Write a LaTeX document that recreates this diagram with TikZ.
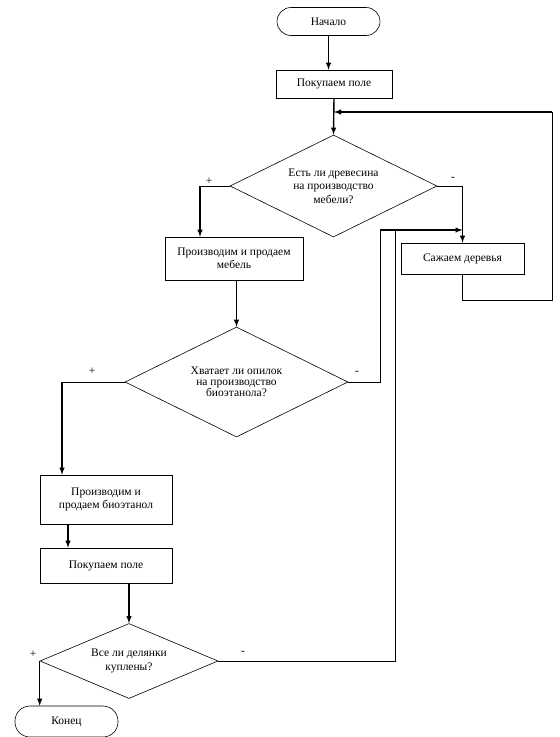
\documentclass[tikz,border=0pt]{standalone}
\usepackage{fontspec}
\setmainfont{Liberation Serif}
\usetikzlibrary{arrows,calc,positioning}
\usetikzlibrary{shapes.geometric}

\begin{document}
\begin{tikzpicture}[x=1pt,y=-1pt,>=latex,font=\fontsize{11.5}{13.5}\selectfont]
	\tikzstyle{term}=[draw, line width=0.6pt, rounded corners=14pt, minimum width=103pt, minimum height=28pt]
	\tikzstyle{box}=[draw, line width=0.6pt, align=center]
	\tikzstyle{cond}=[draw, line width=0.6pt, diamond, aspect=2, inner sep=0pt, align=center]
	\tikzstyle{link}=[line width=1.4pt]
	\tikzstyle{side}=[line width=0.8pt]
	\useasboundingbox (0,0) rectangle (560,737);

	\node[term] (start) at (328.5,21.5) {Начало};
	\node[box, minimum width=116pt, minimum height=28pt] (field1) at (334,84) {Покупаем поле};
	\node[cond, minimum width=207pt, minimum height=102pt] (wood) at (333.5,186) {Есть ли древесина\\на производство\\мебели?};
	\node[box, minimum width=138pt, minimum height=43pt] (furn) at (234,258.5) {Производим и продаем\\мебель};
	\node[box, minimum width=123pt, minimum height=31pt] (trees) at (462.5,258.5) {Сажаем деревья};
	\node[cond, minimum width=223pt, minimum height=110pt, font=\fontsize{11.5}{11}\selectfont] (dust) at (236.5,382) {Хватает ли опилок\\на производство\\биоэтанола?};
	\node[box, minimum width=132pt, minimum height=49pt] (bio) at (106,499.5) {Производим и\\продаем биоэтанол};
	\node[box, minimum width=132pt, minimum height=35pt] (field2) at (106,565.5) {Покупаем поле};
	\node[cond, minimum width=178pt, minimum height=75pt] (plots) at (129,661) {Все ли делянки\\куплены?};
	\node[term, minimum height=31pt, rounded corners=15pt] (stop) at (66.5,721.5) {Конец};

	% signs at the branches
	\node (plus1) at (209,181) {+};
	\node (minus1) at (453,179) {-};
	\node (plus2) at (92,371) {+};
	\node (minus2) at (357,373) {-};
	\node (plus3) at (33,654) {+};
	\node (minus3) at (243,653) {-};

	\draw[link,->] (start) -- (start |- field1.north);
	\draw[link,->] (field1.south) -- (wood.north);

	% first question
	\coordinate (yes1) at (200,186);
	\draw[side] (wood.west) -- (yes1);
	\draw[link,->] (yes1) -- (yes1 |- furn.north);
	\coordinate (no1) at (trees.north |- wood.east);
	\draw[side] (wood.east) -- (no1);
	\draw[link,->] (no1) -- (trees.north);

	% back to the first question
	\coordinate (back1) at (552,300);
	\coordinate (back2) at (552,112);
	\coordinate (join1) at (field1.south |- back2);
	\draw[side] (trees.south) |- (back1) -- (back2);
	\draw[link,->] (back2) -- (join1);

	% second question
	\draw[link,->] (dust.north |- furn.south) -- (dust.north);
	\coordinate (yes2) at (62,382);
	\draw[side] (dust.west) -- (yes2);
	\draw[link,->] (yes2) -- (yes2 |- bio.north);
	\coordinate (no2) at (380,382);
	\coordinate (no2up) at (380,230);
	\coordinate (join2) at (no1 |- no2up);
	\draw[side] (dust.east) -- (no2) -- (no2up);
	\draw[link,->] (no2up) -- (join2);

	% third question
	\draw[link,->] ($(bio.south)+(-38,0)$) -- ($(field2.north)+(-38,0)$);
	\draw[link,->] (plots.north |- field2.south) -- (plots.north);
	\coordinate (no3) at (395,661);
	\draw[side] (plots.east) -- (no3) -- (no3 |- no2up);
	\draw[link,->] (plots.west) -- (plots.west |- stop.north);
\end{tikzpicture}
\end{document}
